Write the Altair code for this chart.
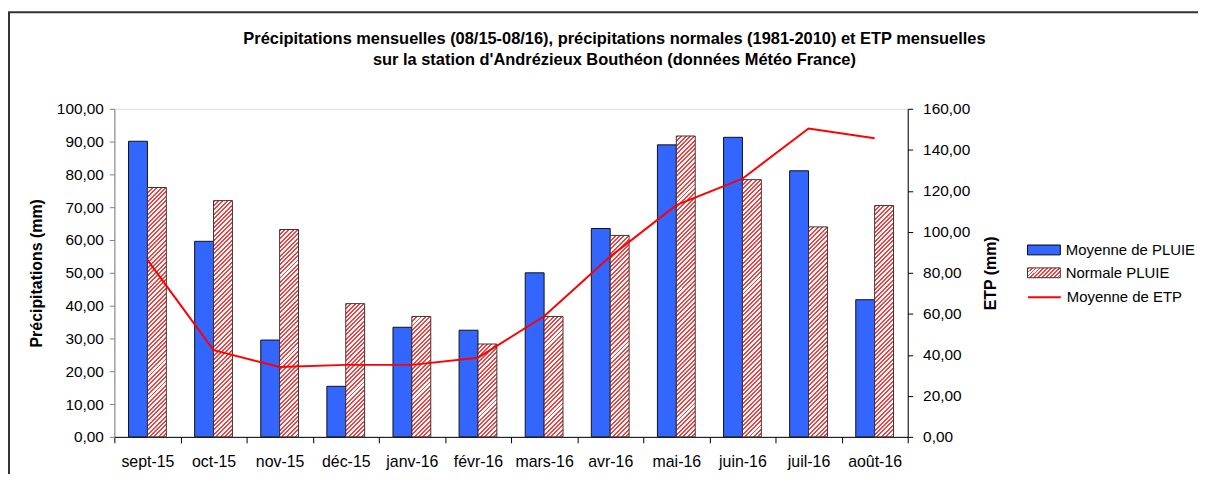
import altair as alt

# ---------------- data ----------------
mois = ["sept-15", "oct-15", "nov-15", "déc-15", "janv-16", "févr-16",
        "mars-16", "avr-16", "mai-16", "juin-16", "juil-16", "août-16"]
pluie = [90.1, 59.6, 29.5, 15.4, 33.4, 32.5, 50.0, 63.5, 89.0, 91.3, 81.1, 41.8]
normale = [76.0, 72.0, 63.2, 40.6, 36.7, 28.3, 36.7, 61.4, 91.7, 78.4, 64.0, 70.5]
etp = [86.3, 42.3, 34.1, 35.1, 35.1, 38.6, 58.8, 87.9, 113.0, 125.9, 150.4, 145.6]

series = ["Moyenne de PLUIE", "Normale PLUIE"]
etp_name = "Moyenne de ETP"
titre = ["Précipitations mensuelles (08/15-08/16), précipitations normales (1981-2010) et ETP mensuelles",
         "sur la station d'Andrézieux Bouthéon (données Météo France)"]

# ---------------- layout ----------------
W, H = 798, 330
Y_MAX, ETP_MAX = 100, 160
BAR_W = W / 12 / 3.5
FONT = "Liberation Sans"
BLUE = "#3366FF"
HATCH_RED = "#FF3C3C"


def hatch(w, h, period=4.4):
    """Diagonal red/white hatch as a linear gradient over a w x h box."""
    n = max(1, round((w + h) / period))
    s = (w + h) / (w * w + h * h)
    stops = []
    for i in range(n):
        a, m, b = i / n, (i + 0.45) / n, (i + 1) / n
        stops += [{"offset": round(a, 5), "color": HATCH_RED},
                  {"offset": round(m, 5), "color": HATCH_RED},
                  {"offset": round(m, 5), "color": "#FFFFFF"},
                  {"offset": round(b, 5), "color": "#FFFFFF"}]
    return {"gradient": "linear", "x1": 0, "y1": 0,
            "x2": round(w * s, 5), "y2": round(h * s, 5), "stops": stops}


def js_obj(g):
    stops = ",".join("{offset:%s,color:'%s'}" % (s["offset"], s["color"]) for s in g["stops"])
    return "{gradient:'linear',x1:%s,y1:%s,x2:%s,y2:%s,stops:[%s]}" % (
        g["x1"], g["y1"], g["x2"], g["y2"], stops)


pluie_rows = [{"mois": m, "série": series[0], "valeur": p} for m, p in zip(mois, pluie)]
hatch_rows = [{"mois": m, "série": series[1], "valeur": n,
               "grad": hatch(BAR_W, n / Y_MAX * H)} for m, n in zip(mois, normale)]
etp_rows = [{"mois": m, "courbe": etp_name, "etp": e} for m, e in zip(mois, etp)]

fmt = "replace(format(datum.value, '.2f'), '.', ',')"

xscale = alt.Scale(domain=mois, paddingInner=0, paddingOuter=0)
xoff = alt.XOffset("série:N", scale=alt.Scale(domain=series, paddingInner=0, paddingOuter=0.75))
xaxis = alt.Axis(title=None, tickBand="extent", tickSize=6, labelAngle=0, labelPadding=11,
                 labelFontSize=16, labelFont=FONT, labelColor="#000",
                 domainColor="#000", tickColor="#000", grid=False)
yleft = alt.Axis(title="Précipitations (mm)", values=list(range(0, 101, 10)), labelExpr=fmt,
                 tickSize=5, labelPadding=6, labelFontSize=15.5, labelFont=FONT, labelColor="#000",
                 titleFont=FONT, titleFontSize=16, titleFontWeight="bold", titleColor="#000",
                 titlePadding=12, domainColor="#808080", tickColor="#808080", grid=False)
yright = alt.Axis(title="ETP (mm)", orient="right", values=list(range(0, 161, 20)), labelExpr=fmt,
                  tickSize=5, labelPadding=10, labelFontSize=15.5, labelFont=FONT, labelColor="#000",
                  titleFont=FONT, titleFontSize=16, titleFontWeight="bold", titleColor="#000",
                  titleAngle=270, titlePadding=29, domainColor="#000", tickColor="#000", grid=False)

rect_sym = "M-1,-0.3H1V0.3H-1Z"
leg_common = dict(title=None, orient="none", padding=0, labelFont=FONT, labelFontSize=15,
                  labelColor="#000", labelOffset=5)
legend_pluie = alt.Legend(legendX=918, legendY=125, symbolType=rect_sym, symbolSize=1089,
                          symbolStrokeColor="#000", symbolStrokeWidth=1, symbolOpacity=1,
                          **leg_common)
legend_norm = alt.Legend(legendX=918, legendY=148, symbolType=rect_sym, symbolSize=1089,
                         symbolStrokeColor="#333", symbolStrokeWidth=1, symbolOpacity=1,
                         symbolFillColor=alt.ExprRef(js_obj(hatch(33, 10, 4.0))),
                         **leg_common)
legend_line = alt.Legend(legendX=918, legendY=172, symbolType="stroke", symbolSize=1089,
                         symbolStrokeWidth=2, **leg_common)

ybars = alt.Scale(domain=[0, Y_MAX], nice=False)
bars = alt.Chart(alt.Data(values=pluie_rows)).mark_bar(stroke="#111", strokeWidth=1).encode(
    x=alt.X("mois:N", scale=xscale, axis=xaxis, sort=mois),
    xOffset=xoff,
    y=alt.Y("valeur:Q", scale=ybars, axis=yleft, stack=None),
    fill=alt.Fill("série:N", scale=alt.Scale(domain=[series[0]], range=[BLUE]),
                  legend=legend_pluie),
)
hatched = alt.Chart(alt.Data(values=hatch_rows)).mark_bar(stroke="#333", strokeWidth=1).encode(
    x=alt.X("mois:N", scale=xscale, axis=xaxis, sort=mois),
    xOffset=xoff,
    y=alt.Y("valeur:Q", scale=ybars, axis=yleft, stack=None),
    fill=alt.Fill("grad:N", scale=None, legend=None),
    opacity=alt.Opacity("série:N", scale=alt.Scale(type="ordinal", domain=[series[1]], range=[1]),
                        legend=legend_norm),
)
line = alt.Chart(alt.Data(values=etp_rows)).mark_line(strokeWidth=2).encode(
    x=alt.X("mois:N", scale=xscale, axis=xaxis, sort=mois),
    y=alt.Y("etp:Q", scale=alt.Scale(domain=[0, ETP_MAX], nice=False), axis=yright),
    stroke=alt.Stroke("courbe:N", scale=alt.Scale(domain=[etp_name], range=["#FF0000"]),
                      legend=legend_line),
)
# chart-area frame (decoration, as in the spreadsheet export)
frame = alt.Chart(alt.Data(values=[{}])).mark_rect(
    fill=None, stroke="#333333", strokeWidth=2).encode(
    x=alt.value(-106), x2=alt.value(W + 400), y=alt.value(-97), y2=alt.value(H + 200))

chart = alt.layer(frame, alt.layer(bars, hatched), line).resolve_scale(y="independent").properties(
    width=W, height=H,
    padding={"left": 107, "top": 100, "right": 292, "bottom": 36},
    autosize=alt.AutoSizeParams(type="none"),
    title=alt.Title(titre, font=FONT, fontSize=16.5, fontWeight="bold", color="#000",
                    anchor="middle", dx=104, offset=-57, lineHeight=21),
).configure_view(stroke=None).configure(background="#FFFFFF")

chart.save("out.html", embed_options={"renderer": "svg", "actions": False})
